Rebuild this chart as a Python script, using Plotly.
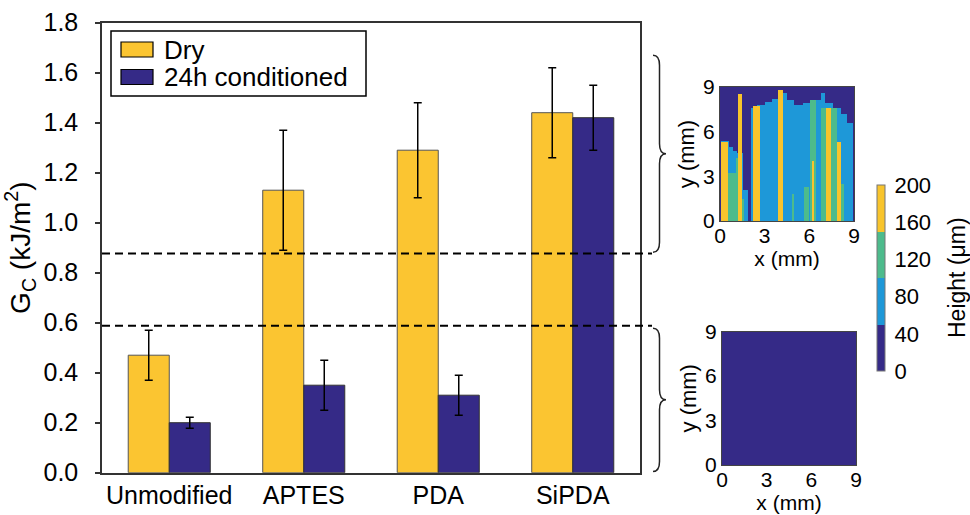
import numpy as np
import plotly.graph_objects as go

# ---------------- data ----------------
categories = ["Unmodified", "APTES", "PDA", "SiPDA"]
series_names = ["Dry", "24h conditioned"]
dry_values = [0.47, 1.13, 1.29, 1.44]
dry_errors = [0.10, 0.24, 0.19, 0.18]
cond_values = [0.20, 0.35, 0.31, 1.42]
cond_errors = [0.022, 0.10, 0.08, 0.13]
threshold_levels = [0.877, 0.588]
y_ticks = [0.0, 0.2, 0.4, 0.6, 0.8, 1.0, 1.2, 1.4, 1.6, 1.8]

map_ticks = [0, 3, 6, 9]
height_ticks = [0, 40, 80, 120, 160, 200]
height_levels = [25, 75, 125, 175]  # class centres: dark, blue, green, yellow

blue_stripes = [
    (0.10, 0.60, 5.4), (0.60, 0.85, 5.0), (0.85, 1.15, 4.7), (1.15, 1.55, 4.6),
    (1.55, 1.85, 2.1),
    (2.10, 2.50, 7.6), (2.50, 3.00, 7.8), (3.00, 3.50, 8.0), (3.50, 3.90, 8.2),
    (3.90, 4.50, 8.6), (4.50, 5.00, 8.1), (5.00, 5.60, 7.8), (5.60, 6.20, 7.9),
    (6.20, 6.80, 8.1), (6.80, 7.05, 8.6), (7.05, 7.60, 7.9), (7.60, 8.10, 7.6),
    (8.10, 8.50, 7.2), (8.50, 8.95, 6.6),
]
green_stripes = [
    (0.55, 1.10, 3.2), (1.05, 1.25, 4.2), (1.50, 1.60, 1.5), (4.85, 5.00, 1.8),
    (5.65, 6.00, 2.3), (6.05, 6.45, 8.1), (6.80, 7.85, 7.6), (8.15, 8.35, 2.5),
]
yellow_stripes = [
    (0.12, 0.55, 5.3), (1.18, 1.52, 8.55), (2.25, 2.68, 7.75),
    (3.92, 4.25, 8.8), (6.22, 6.30, 4.0), (7.15, 7.45, 7.6), (7.85, 8.15, 5.3),
]

# ---------------- build maps ----------------
grid = np.arange(0.025, 9.0, 0.05)
X, Y = np.meshgrid(grid, grid)
z_dry = np.full(X.shape, float(height_levels[0]))
for stripes, lvl in ((blue_stripes, height_levels[1]),
                     (green_stripes, height_levels[2]),
                     (yellow_stripes, height_levels[3])):
    for x0, x1, top in stripes:
        z_dry[(X >= x0) & (X < x1) & (Y < top)] = lvl
z_cond = np.full(X.shape, float(height_levels[0]))

YELLOW = "#FBC531"
NAVY = "#352A87"
c_dark, c_blue, c_green, c_yel = "#352A87", "#1E98D8", "#4DBB8C", "#F8C42C"
cscale = [[0, c_dark], [0.25, c_dark], [0.25, c_blue], [0.5, c_blue],
          [0.5, c_green], [0.75, c_green], [0.75, c_yel], [1, c_yel]]

FONT = "Liberation Sans, Arial, sans-serif"
W, H = 970, 515

def px(x):
    return x / W

def py(y):
    return 1 - y / H

fig = go.Figure()

fig.add_trace(go.Bar(
    x=categories, y=dry_values, name=series_names[0],
    marker=dict(color=YELLOW, line=dict(color="#555555", width=1)),
    error_y=dict(type="data", array=dry_errors, color="black", thickness=1.5, width=4),
    showlegend=False,
))
fig.add_trace(go.Bar(
    x=categories, y=cond_values, name=series_names[1],
    marker=dict(color=NAVY, line=dict(color="#333333", width=1)),
    error_y=dict(type="data", array=cond_errors, color="black", thickness=1.5, width=4),
    showlegend=False,
))

fig.add_trace(go.Heatmap(
    x=grid, y=grid, z=z_dry, xaxis="x2", yaxis="y2",
    zmin=0, zmax=200, colorscale=cscale, hoverinfo="skip",
    colorbar=dict(
        x=px(877), xanchor="left", xpad=0, thickness=8,
        len=186 / H, lenmode="fraction", y=py(278), yanchor="middle", ypad=0,
        outlinecolor="#777777", outlinewidth=1,
        tickvals=height_ticks, ticks="outside", ticklen=5, tickcolor="rgba(0,0,0,0)",
        tickfont=dict(size=22, color="black", family=FONT),
    ),
))
fig.add_trace(go.Heatmap(
    x=grid, y=grid, z=z_cond, xaxis="x3", yaxis="y3",
    zmin=0, zmax=200, colorscale=cscale, showscale=False, hoverinfo="skip",
))

axis_line = dict(showline=True, mirror=True, linecolor="#333333", linewidth=1.5,
                 showgrid=False, zeroline=False, automargin=False)
map_axis = dict(showline=True, mirror=True, linecolor="#444444", linewidth=1,
                showgrid=False, zeroline=False, range=[0, 9], tickvals=map_ticks,
                ticks="", automargin=False, tickfont=dict(size=21, color="black", family=FONT))
map_x = dict(ticklabelstandoff=-4,
             title=dict(text="x (mm)", font=dict(size=21), standoff=3), **map_axis)
map_y = dict(title=dict(text="y (mm)", font=dict(size=22), standoff=2), **map_axis)

fig.update_layout(
    width=W, height=H, margin=dict(l=0, r=0, t=0, b=0, autoexpand=False),
    paper_bgcolor="white", plot_bgcolor="white",
    font=dict(family=FONT, color="black"),
    barmode="group", bargap=0.39, bargroupgap=0,
    xaxis=dict(domain=[px(102), px(640)], range=[-0.5, 3.5], ticks="",
               ticklabelstandoff=0, tickfont=dict(size=25), **axis_line),
    yaxis=dict(domain=[py(472.7), py(22.7)], range=[0, 1.8], tickvals=y_ticks,
               tickformat=".1f", ticks="outside", ticklen=5, tickwidth=1.5, tickcolor="#333333",
               ticklabelstandoff=12, tickfont=dict(size=25),
               title=dict(text="G<sub>C</sub> (kJ/m<sup>2</sup>)", font=dict(size=28), standoff=10),
               **axis_line),
    xaxis2=dict(domain=[px(720), px(854)], anchor="y2", **map_x),
    yaxis2=dict(domain=[py(221), py(87)], anchor="x2", **map_y),
    xaxis3=dict(domain=[px(722), px(856)], anchor="y3", **map_x),
    yaxis3=dict(domain=[py(465), py(331.5)], anchor="x3", **map_y),
)

# colour bar title
fig.add_annotation(xref="paper", yref="paper", x=px(957), y=py(278), text="Height (μm)",
                   textangle=-90, showarrow=False, xanchor="center", yanchor="middle",
                   font=dict(size=23, color="black", family=FONT))

# dashed threshold lines
for lvl in threshold_levels:
    fig.add_shape(type="line", xref="paper", yref="y", x0=px(102), x1=px(652),
                  y0=lvl, y1=lvl, line=dict(color="black", width=2, dash="8px,5px"))

# curly braces linking the thresholds to the height maps
def brace(y_top, y_bot, x_end=px(653), x_sp=px(659.5), x_tip=px(666), d=0.04):
    ym = (y_top + y_bot) / 2
    return (f"M{x_end},{y_top} Q{x_sp},{y_top} {x_sp},{y_top - d} "
            f"L{x_sp},{ym + d} Q{x_sp},{ym} {x_tip},{ym} "
            f"Q{x_sp},{ym} {x_sp},{ym - d} L{x_sp},{y_bot + d} "
            f"Q{x_sp},{y_bot} {x_end},{y_bot}")

fig.add_shape(type="path", xref="paper", yref="y", path=brace(1.67, threshold_levels[0] + 0.005),
              line=dict(color="#222222", width=1.5))
fig.add_shape(type="path", xref="paper", yref="y", path=brace(threshold_levels[1] - 0.01, 0.005),
              line=dict(color="#222222", width=1.5))

# legend drawn as a framed box
fig.add_shape(type="rect", xref="paper", yref="paper", x0=px(111), x1=px(366),
              y0=py(96), y1=py(31), line=dict(color="black", width=1.5), fillcolor="white")
for i, (name, col) in enumerate(zip(series_names, [YELLOW, NAVY])):
    top = 42 + i * 27.5
    fig.add_shape(type="rect", xref="paper", yref="paper", x0=px(121), x1=px(153),
                  y0=py(top + 15), y1=py(top), line=dict(color="black", width=1.2), fillcolor=col)
    fig.add_annotation(xref="paper", yref="paper", x=px(162), y=py(top + 7.5), text=name,
                       showarrow=False, xanchor="left", yanchor="middle",
                       font=dict(size=26, color="black", family=FONT))

fig.write_html("out.html")
